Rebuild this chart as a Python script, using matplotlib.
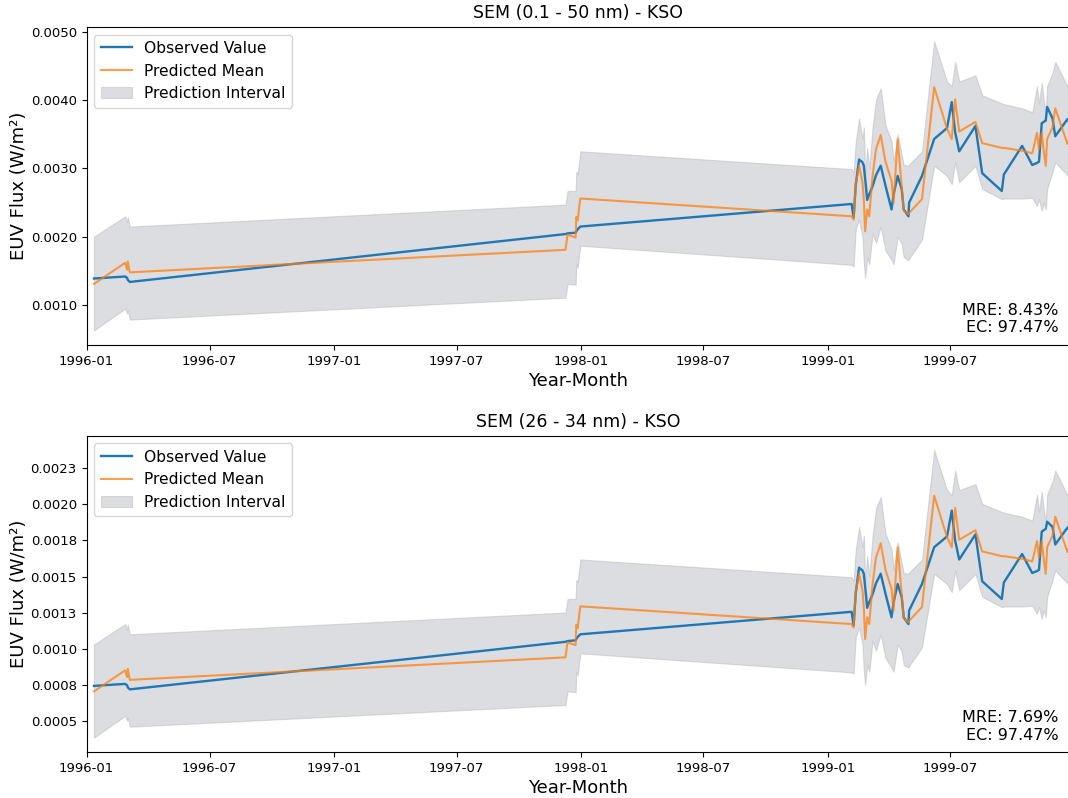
import numpy as np
import pandas as pd
import matplotlib
matplotlib.use("Agg")
import matplotlib.pyplot as plt
import matplotlib.dates as mdates
from matplotlib.ticker import MultipleLocator, FuncFormatter

# observation dates shared by both panels
dates = [
    "1996-01-12", "1996-02-27", "1996-03-01", "1996-03-02", "1996-03-05",
    "1997-12-09", "1997-12-12", "1997-12-24", "1997-12-25", "1997-12-27", "1997-12-31",
    "1999-02-05", "1999-02-08", "1999-02-11", "1999-02-16", "1999-02-21", "1999-02-23",
    "1999-02-25", "1999-02-28", "1999-03-03", "1999-03-08", "1999-03-13", "1999-03-20",
    "1999-03-27", "1999-04-05", "1999-04-08", "1999-04-14", "1999-04-20", "1999-04-23",
    "1999-04-30", "1999-05-01", "1999-05-20", "1999-06-07", "1999-06-26", "1999-07-03",
    "1999-07-08", "1999-07-14", "1999-08-07", "1999-08-17", "1999-09-15", "1999-09-18",
    "1999-10-15", "1999-10-30", "1999-11-06", "1999-11-09", "1999-11-13", "1999-11-16",
    "1999-11-19", "1999-11-21", "1999-11-29", "1999-12-03", "1999-12-21", "1999-12-31",
]

# SEM 0.1 - 50 nm
obs_wide = [
    0.00139, 0.00142, 0.00140, 0.00137, 0.00134,
    0.00204, 0.00205, 0.00206, 0.00208, 0.00211, 0.00215,
    0.00248, 0.00228, 0.00275, 0.00313, 0.00309, 0.00304,
    0.00285, 0.00254, 0.00262, 0.00274, 0.00290, 0.00304,
    0.00275, 0.00240, 0.00262, 0.00289, 0.00270, 0.00240,
    0.00230, 0.00250, 0.00289, 0.00343, 0.00359, 0.00397,
    0.00353, 0.00325, 0.00362, 0.00293, 0.00267, 0.00291,
    0.00333, 0.00305, 0.00308, 0.00310, 0.00366, 0.00368,
    0.00370, 0.00390, 0.00373, 0.00347, 0.00372, 0.00358,
]
pred_wide = [
    0.00131, 0.00162, 0.00152, 0.00164, 0.00148,
    0.00181, 0.00203, 0.00199, 0.00229, 0.00224, 0.00256,
    0.00230, 0.00225, 0.00277, 0.00304, 0.00280, 0.00255,
    0.00208, 0.00240, 0.00230, 0.00289, 0.00328, 0.00349,
    0.00310, 0.00282, 0.00250, 0.00343, 0.00274, 0.00238,
    0.00233, 0.00235, 0.00255, 0.00419, 0.00358, 0.00343,
    0.00401, 0.00354, 0.00368, 0.00337, 0.00330, 0.00330,
    0.00326, 0.00322, 0.00352, 0.00328, 0.00352, 0.00325,
    0.00304, 0.00343, 0.00360, 0.00388, 0.00336, 0.00362,
]
lo_wide = [
    0.00063, 0.00095, 0.00088, 0.00092, 0.00079,
    0.00111, 0.00131, 0.00130, 0.00160, 0.00155, 0.00187,
    0.00159, 0.00157, 0.00211, 0.00225, 0.00200, 0.00162,
    0.00140, 0.00170, 0.00160, 0.00205, 0.00191, 0.00215,
    0.00180, 0.00166, 0.00160, 0.00200, 0.00190, 0.00170,
    0.00166, 0.00168, 0.00196, 0.00304, 0.00289, 0.00277,
    0.00309, 0.00280, 0.00304, 0.00270, 0.00255, 0.00256,
    0.00256, 0.00257, 0.00245, 0.00255, 0.00238, 0.00250,
    0.00240, 0.00270, 0.00295, 0.00309, 0.00290, 0.00294,
]
hi_wide = [
    0.00200, 0.00230, 0.00222, 0.00229, 0.00215,
    0.00247, 0.00267, 0.00267, 0.00295, 0.00292, 0.00325,
    0.00299, 0.00294, 0.00338, 0.00373, 0.00343, 0.00360,
    0.00290, 0.00330, 0.00300, 0.00360, 0.00400, 0.00417,
    0.00363, 0.00340, 0.00310, 0.00350, 0.00320, 0.00305,
    0.00304, 0.00306, 0.00325, 0.00486, 0.00427, 0.00420,
    0.00456, 0.00427, 0.00436, 0.00407, 0.00395, 0.00394,
    0.00388, 0.00382, 0.00420, 0.00395, 0.00425, 0.00400,
    0.00380, 0.00420, 0.00440, 0.00456, 0.00420, 0.00407,
]

# SEM 26 - 34 nm
obs_narrow = [
    0.000741, 0.000755, 0.000746, 0.000731, 0.000717,
    0.001047, 0.001052, 0.001057, 0.001066, 0.001080, 0.001099,
    0.001255, 0.001160, 0.001382, 0.001561, 0.001542, 0.001519,
    0.001429, 0.001283, 0.001321, 0.001377, 0.001453, 0.001519,
    0.001382, 0.001217, 0.001321, 0.001448, 0.001359, 0.001217,
    0.001170, 0.001264, 0.001448, 0.001703, 0.001778, 0.001957,
    0.001750, 0.001618, 0.001792, 0.001467, 0.001344, 0.001458,
    0.001656, 0.001524, 0.001538, 0.001547, 0.001811, 0.001821,
    0.001830, 0.001880, 0.001844, 0.001722, 0.001839, 0.001773,
]
pred_narrow = [
    0.000703, 0.000849, 0.000802, 0.000859, 0.000783,
    0.000939, 0.001043, 0.001024, 0.001165, 0.001142, 0.001293,
    0.001170, 0.001146, 0.001392, 0.001519, 0.001406, 0.001288,
    0.001066, 0.001217, 0.001170, 0.001448, 0.001632, 0.001731,
    0.001547, 0.001415, 0.001264, 0.001703, 0.001377, 0.001208,
    0.001184, 0.001193, 0.001288, 0.002061, 0.001773, 0.001703,
    0.001976, 0.001755, 0.001821, 0.001674, 0.001641, 0.001641,
    0.001623, 0.001604, 0.001745, 0.001632, 0.001745, 0.001618,
    0.001519, 0.001703, 0.001783, 0.001915, 0.001670, 0.001792,
]
lo_narrow = [
    0.000382, 0.000533, 0.000500, 0.000519, 0.000458,
    0.000609, 0.000703, 0.000698, 0.000840, 0.000816, 0.000967,
    0.000835, 0.000826, 0.001080, 0.001146, 0.001028, 0.000849,
    0.000746, 0.000887, 0.000840, 0.001052, 0.000986, 0.001099,
    0.000934, 0.000868, 0.000840, 0.001028, 0.000981, 0.000887,
    0.000868, 0.000878, 0.001010, 0.001519, 0.001448, 0.001392,
    0.001542, 0.001406, 0.001519, 0.001359, 0.001288, 0.001292,
    0.001292, 0.001297, 0.001241, 0.001288, 0.001208, 0.001264,
    0.001217, 0.001359, 0.001476, 0.001542, 0.001453, 0.001472,
]
hi_narrow = [
    0.001028, 0.001170, 0.001132, 0.001165, 0.001099,
    0.001250, 0.001344, 0.001344, 0.001476, 0.001462, 0.001618,
    0.001495, 0.001472, 0.001679, 0.001844, 0.001703, 0.001783,
    0.001453, 0.001641, 0.001500, 0.001783, 0.001971, 0.002052,
    0.001797, 0.001689, 0.001547, 0.001736, 0.001594, 0.001524,
    0.001519, 0.001528, 0.001618, 0.002377, 0.002099, 0.002066,
    0.002235, 0.002099, 0.002141, 0.002004, 0.001948, 0.001943,
    0.001915, 0.001887, 0.002066, 0.001948, 0.002089, 0.001971,
    0.001877, 0.002066, 0.002160, 0.002235, 0.002066, 0.002004,
]

titles = ["SEM (0.1 - 50 nm) - KSO", "SEM (26 - 34 nm) - KSO"]
scores = ["MRE: 8.43%\nEC: 97.47%", "MRE: 7.69%\nEC: 97.47%"]

t = pd.to_datetime(dates)


def tick_fmt(v, pos):
    # round half up, the way the reference labels read
    return "%.4f" % (np.floor(v * 1e4 + 0.5 + 1e-6) / 1e4)


fig = plt.figure(figsize=(10.68, 7.98), dpi=100)
ax1 = fig.add_axes([0.081, 0.5677, 0.921, 0.3988])
ax2 = fig.add_axes([0.081, 0.0576, 0.921, 0.3964])

panels = [
    (ax1, obs_wide, pred_wide, lo_wide, hi_wide, 0.001),
    (ax2, obs_narrow, pred_narrow, lo_narrow, hi_narrow, 0.00025),
]

for i, (ax, obs, pred, lo, hi, step) in enumerate(panels):
    ax.plot(t, obs, color="#1f77b4", lw=1.7, label="Observed Value")
    ax.plot(t, pred, color="#ff7f0e", lw=1.5, alpha=0.75, label="Predicted Mean")
    ax.fill_between(t, lo, hi, color="#a8abb3", alpha=0.4, lw=0.8,
                    label="Prediction Interval")

    ax.set_xlim(pd.Timestamp("1996-01-01"), pd.Timestamp("1999-12-25"))
    ax.xaxis.set_major_locator(mdates.MonthLocator(bymonth=[1, 7]))
    ax.xaxis.set_major_formatter(mdates.DateFormatter("%Y-%m"))
    ax.yaxis.set_major_locator(MultipleLocator(step))
    ax.yaxis.set_major_formatter(FuncFormatter(tick_fmt))
    ax.tick_params(labelsize=9.5)

    ax.set_title(titles[i], fontsize=12.5)
    ax.set_xlabel("Year-Month", fontsize=13, labelpad=3)
    ax.set_ylabel("EUV Flux (W/m²)", fontsize=13, labelpad=2)
    ax.legend(loc="upper left", fontsize=11.2)
    ax.text(0.988, 0.03, scores[i], transform=ax.transAxes, ha="right", va="bottom",
            fontsize=11.5, multialignment="right")

fig.savefig("out.png", dpi=100)
